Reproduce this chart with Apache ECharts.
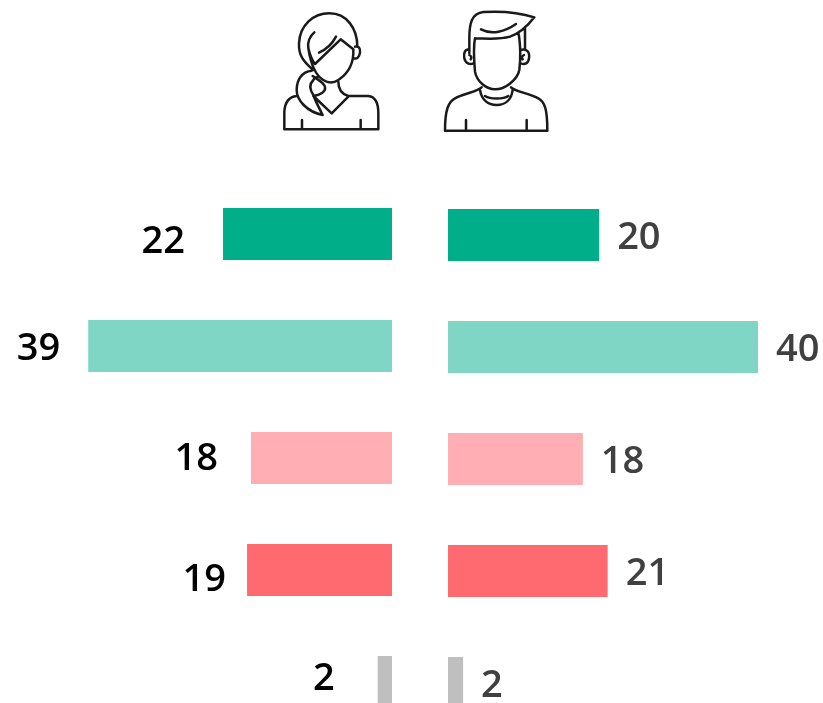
<!DOCTYPE html>
<html>
<head>
<meta charset="utf-8">
<style>html,body{margin:0;padding:0;background:#fff}#chart{width:823px;height:703px}</style>
<script src="https://cdn.jsdelivr.net/npm/echarts@6/dist/echarts.min.js"></script>
</head>
<body>
<div id="chart"></div>
<script>
const categories = ['a', 'b', 'c', 'd', 'e']
const colors = ['#00ae8a', '#80d6c4', '#ffafb3', '#ff6970', '#bfbfbf']
// bar lengths, the printed labels are rounded
const womenValues = [21.8, 39.2, 18.2, 18.7, 1.85]
const menValues = [19.5, 40, 17.4, 20.6, 1.95]
const womenLabels = ['22', '39', '18', '19', '2']
const menLabels = ['20', '40', '18', '21', '2']
// the labels in the original are not lined up with the bars
const womenLabelNudge = [[-38, 8], [-28, 3], [-33, 1], [-21, 10], [-43, -3]]

const womanPaths = [
  'M130 210C100 185 85 165 87 130C90 75 130 40 178 40C230 40 262 85 262 140',
  'M115 145C120 165 125 180 135 192L212 118L250 148C252 190 235 220 205 240C190 250 175 250 160 240C135 225 122 190 115 145',
  'M133 97C118 110 112 125 115 145',
  'M147 158C165 150 185 135 198 110',
  'M255 140C265 135 272 145 270 158C268 172 260 178 252 175',
  'M125 212C95 215 80 240 80 270C80 300 110 335 158 345C145 320 135 300 130 285C120 270 115 255 130 240C135 232 140 230 142 233',
  'M128 228C145 240 165 250 165 262C168 275 150 285 130 288L185 340L235 290',
  'M205 245C205 270 215 282 235 288L295 288C315 290 325 310 325 340L325 388L43 388L43 335C45 305 60 290 80 288',
  'M96 360L96 388M272 360L272 388'
]
const manPaths = [
  'M118 115C118 70 125 40 160 36C210 33 270 38 313 52C295 75 270 100 240 110C205 120 165 115 135 115',
  'M135 115C130 140 132 180 135 215C140 245 170 268 195 268C225 268 262 240 268 210C272 180 272 130 265 98',
  'M153 88C185 105 225 95 258 72',
  'M118 115L118 160M285 85L285 150',
  'M118 150C105 145 100 160 103 175C106 190 120 195 130 190M118 165C124 168 126 172 122 178',
  'M272 150C290 145 300 155 297 175C295 190 285 195 272 190M282 165C276 168 274 172 278 178',
  'M155 262C145 275 100 280 75 295C55 305 45 330 45 392L352 392C352 330 345 305 325 295C300 280 255 275 243 262',
  'M150 270C155 300 175 315 200 315C225 315 245 300 248 268M165 288C180 298 220 298 235 288',
  'M108 360L108 392M290 360L290 392'
]

// graphic has no plain path type, so register each icon as a shape
echarts.graphic.registerShape('womanIcon', echarts.graphic.extendPath(womanPaths.join(''), {}))
echarts.graphic.registerShape('manIcon', echarts.graphic.extendPath(manPaths.join(''), {}))

function icon(name, x) {
  return {
    type: name,
    x: x,
    y: 0,
    scaleX: 1 / 3,
    scaleY: 1 / 3,
    silent: true,
    style: { fill: 'none', stroke: '#1a1a1a', lineWidth: 7.5, lineCap: 'round', lineJoin: 'round' }
  }
}

const myChart = echarts.init(document.getElementById('chart'))
const labelFont = { fontFamily: 'Open Sans', fontSize: 38, fontWeight: 600 }

myChart.setOption({
  animation: false,
  grid: [
    { left: 82, top: 178, width: 310, height: 560, outerBoundsMode: 'none' },
    { left: 448, top: 179, width: 310, height: 560, outerBoundsMode: 'none' }
  ],
  xAxis: [
    { gridIndex: 0, type: 'value', min: 0, max: 40, inverse: true, show: false },
    { gridIndex: 1, type: 'value', min: 0, max: 40, show: false }
  ],
  yAxis: [
    { gridIndex: 0, type: 'category', data: categories, inverse: true, show: false },
    { gridIndex: 1, type: 'category', data: categories, inverse: true, show: false }
  ],
  series: [
    {
      type: 'bar',
      xAxisIndex: 0,
      yAxisIndex: 0,
      barWidth: 52,
      silent: true,
      data: womenValues.map((v, i) => ({
        value: v,
        itemStyle: { color: colors[i] },
        label: {
          show: true,
          position: 'left',
          distance: 0,
          offset: womenLabelNudge[i],
          formatter: womenLabels[i],
          color: '#000',
          ...labelFont
        }
      }))
    },
    {
      type: 'bar',
      xAxisIndex: 1,
      yAxisIndex: 1,
      barWidth: 52,
      silent: true,
      data: menValues.map((v, i) => ({
        value: v,
        itemStyle: { color: colors[i] },
        label: {
          show: true,
          position: 'right',
          distance: 18,
          offset: [0, 3],
          formatter: menLabels[i],
          color: '#404040',
          ...labelFont
        }
      }))
    }
  ],
  graphic: [icon('womanIcon', 270), icon('manIcon', 430)]
})
</script>
</body>
</html>
